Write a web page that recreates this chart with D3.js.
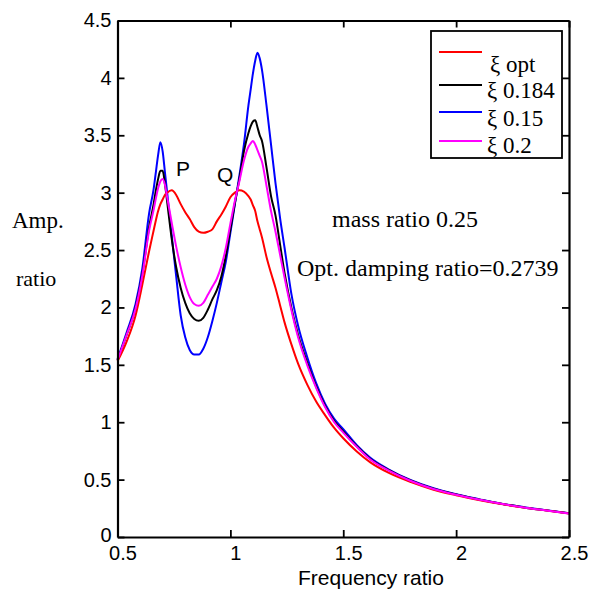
<!DOCTYPE html>
<html>
<head>
<meta charset="utf-8">
<script src="https://cdn.jsdelivr.net/npm/d3@7"></script>
<style>
  body { margin: 0; background: #fff; }
  svg { display: block; }
  .tick text { font-family: "Liberation Sans", Arial, sans-serif; font-size: 20px; fill: #000; }
  .serif { font-family: "Liberation Serif", "Times New Roman", serif; }
  .sans { font-family: "Liberation Sans", Arial, sans-serif; }
</style>
</head>
<body>
<div id="chart"></div>
<script>
// frequency ratio grid (x) shared by every curve
const freq = [0.50,0.54,0.58,0.61,0.64,0.66,0.67,0.68,0.69,0.70,
  0.71,0.72,0.74,0.76,0.78,0.80,0.82,0.84,0.86,0.88,
  0.90,0.92,0.94,0.96,0.98,1.00,1.02,1.04,1.06,1.08,
  1.09,1.10,1.11,1.12,1.13,1.14,1.16,1.18,1.20,1.22,
  1.24,1.27,1.30,1.34,1.38,1.42,1.46,1.50,1.56,1.62,
  1.70,1.80,1.90,2.00,2.10,2.20,2.30,2.40,2.50];

// amplitude ratio
const ampOpt = [1.53,1.70,1.93,2.20,2.49,2.67,2.76,2.84,2.90,2.94,
  2.98,3.00,3.02,2.98,2.90,2.83,2.77,2.70,2.66,2.65,
  2.66,2.68,2.75,2.81,2.88,2.96,3.00,3.02,3.01,2.97,
  2.94,2.89,2.84,2.75,2.68,2.61,2.44,2.30,2.17,2.02,
  1.87,1.68,1.51,1.33,1.18,1.06,0.95,0.86,0.745,0.65,
  0.56,0.478,0.412,0.364,0.323,0.287,0.256,0.230,0.204];

const amp0184 = [1.54,1.76,2.00,2.29,2.70,2.90,3.02,3.12,3.19,3.19,
  3.08,2.92,2.60,2.35,2.17,2.04,1.95,1.90,1.885,1.91,
  1.98,2.07,2.15,2.27,2.45,2.68,2.91,3.12,3.36,3.52,
  3.58,3.62,3.63,3.57,3.50,3.45,3.22,2.97,2.80,2.55,
  2.30,2.00,1.76,1.52,1.31,1.14,1.01,0.92,0.79,0.68,
  0.585,0.49,0.42,0.37,0.327,0.29,0.258,0.232,0.206];

const amp015 = [1.55,1.78,2.03,2.34,2.82,3.03,3.18,3.33,3.44,3.36,
  3.18,3.00,2.63,2.27,1.93,1.74,1.63,1.59,1.59,1.64,
  1.74,1.88,2.04,2.22,2.40,2.65,2.90,3.15,3.42,3.76,
  3.90,4.04,4.15,4.22,4.17,4.07,3.76,3.42,3.08,2.78,
  2.52,2.12,1.84,1.57,1.34,1.16,1.03,0.94,0.80,0.69,
  0.59,0.495,0.425,0.373,0.33,0.29,0.26,0.233,0.206];

const amp02 = [1.54,1.76,1.99,2.28,2.67,2.85,2.95,3.04,3.10,3.12,
  3.07,2.96,2.74,2.53,2.35,2.20,2.09,2.03,2.015,2.04,
  2.11,2.18,2.25,2.36,2.52,2.73,2.93,3.10,3.28,3.40,
  3.43,3.45,3.42,3.37,3.32,3.27,3.06,2.84,2.66,2.46,
  2.26,1.98,1.74,1.50,1.30,1.13,1.00,0.91,0.785,0.675,
  0.58,0.488,0.418,0.368,0.326,0.289,0.257,0.231,0.205];

const seriesNames = ['\u03BE opt', '\u03BE 0.184', '\u03BE 0.15', '\u03BE 0.2'];
const seriesColors = ['#ff0000', '#000000', '#0000ff', '#ff00ff'];
const seriesValues = [ampOpt, amp0184, amp015, amp02];

const xTicks = [0.5, 1, 1.5, 2, 2.5];
const yTicks = [0, 0.5, 1, 1.5, 2, 2.5, 3, 3.5, 4, 4.5];

const W = 598, H = 594;
const plotL = 117.5, plotR = 569, plotT = 20.5, plotB = 537;

const svg = d3.select('#chart').append('svg')
  .attr('width', W)
  .attr('height', H);

const x = d3.scaleLinear().domain([0.5, 2.5]).range([plotL, plotR]);
const y = d3.scaleLinear().domain([0, 4.5]).range([plotB, plotT]);

// curves: draw order so magenta sits on top like the reference
const line = d3.line()
  .x((d, i) => x(freq[i]))
  .y(d => y(d))
  .curve(d3.curveMonotoneX);

[2, 1, 0, 3].forEach(k => {
  svg.append('path')
    .datum(seriesValues[k])
    .attr('fill', 'none')
    .attr('stroke', seriesColors[k])
    .attr('stroke-width', 2)
    .attr('stroke-linejoin', 'round')
    .attr('d', line);
});

// axes, ticks inward on all four sides
function styleAxis(g) {
  g.select('.domain').attr('stroke', '#000').attr('stroke-width', 2.2);
  g.selectAll('.tick line').attr('stroke', '#000').attr('stroke-width', 1.8);
}

svg.append('g')
  .attr('transform', `translate(0,${plotB})`)
  .call(d3.axisBottom(x).tickValues(xTicks).tickFormat(d3.format('')).tickSizeInner(-7).tickSizeOuter(0).tickPadding(6))
  .call(styleAxis)
  .call(g => g.selectAll('.tick text').attr('dy', '0.85em').attr('dx', 5));

svg.append('g')
  .attr('transform', `translate(0,${plotT})`)
  .call(d3.axisTop(x).tickValues(xTicks).tickFormat('').tickSizeInner(-7).tickSizeOuter(0))
  .call(styleAxis);

svg.append('g')
  .attr('transform', `translate(${plotL},0)`)
  .call(d3.axisLeft(y).tickValues(yTicks).tickFormat(d3.format('')).tickSizeInner(-7).tickSizeOuter(0).tickPadding(6))
  .call(styleAxis)
  .call(g => g.selectAll('.tick text').filter(d => d === 0).attr('dy', '0.2em'));

svg.append('g')
  .attr('transform', `translate(${plotR},0)`)
  .call(d3.axisRight(y).tickValues(yTicks).tickFormat('').tickSizeInner(-7).tickSizeOuter(0))
  .call(styleAxis);

// axis titles
svg.append('text')
  .attr('class', 'sans')
  .attr('x', 371)
  .attr('y', 585)
  .attr('text-anchor', 'middle')
  .attr('font-size', 21)
  .text('Frequency ratio');

svg.append('text')
  .attr('class', 'serif')
  .attr('x', 12)
  .attr('y', 228)
  .attr('font-size', 23)
  .text('Amp.');

svg.append('text')
  .attr('class', 'serif')
  .attr('x', 16)
  .attr('y', 286)
  .attr('font-size', 22)
  .text('ratio');

// annotations
svg.append('text').attr('class', 'serif')
  .attr('x', 332).attr('y', 227).attr('font-size', 24)
  .text('mass ratio 0.25');

svg.append('text').attr('class', 'serif')
  .attr('x', 297).attr('y', 276).attr('font-size', 24)
  .text('Opt. damping ratio=0.2739');

svg.append('text').attr('class', 'sans')
  .attr('x', 176).attr('y', 176).attr('font-size', 21)
  .text('P');

svg.append('text').attr('class', 'sans')
  .attr('x', 217).attr('y', 182).attr('font-size', 21)
  .text('Q');

// legend
const legend = svg.append('g');
legend.append('rect')
  .attr('x', 431).attr('y', 31)
  .attr('width', 131).attr('height', 127)
  .attr('fill', '#fff')
  .attr('stroke', '#000')
  .attr('stroke-width', 1.8);

const legendLineY = [52, 85, 112, 141];
const legendTextX = [490, 487, 487, 487];
const legendTextY = [72, 98, 126, 153];

seriesNames.forEach((name, i) => {
  legend.append('line')
    .attr('x1', 439).attr('x2', 482)
    .attr('y1', legendLineY[i]).attr('y2', legendLineY[i])
    .attr('stroke', seriesColors[i])
    .attr('stroke-width', 2);
  legend.append('text')
    .attr('class', 'serif')
    .attr('x', legendTextX[i])
    .attr('y', legendTextY[i])
    .attr('font-size', 23)
    .text(name);
});
</script>
</body>
</html>
